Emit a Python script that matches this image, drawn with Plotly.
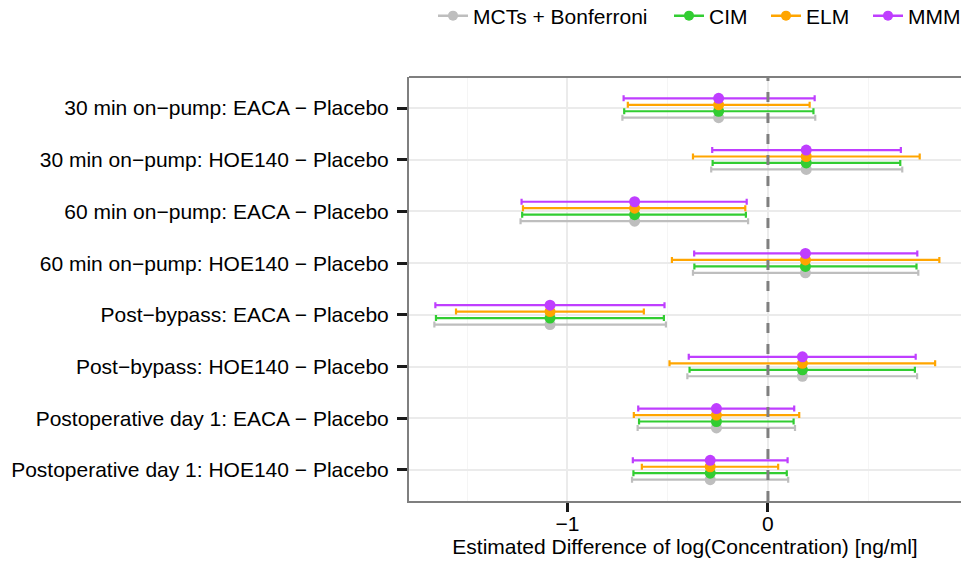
import plotly.graph_objects as go

# ---------------- data ----------------
comparisons = [
    "30 min on\u2212pump: EACA \u2212 Placebo",
    "30 min on\u2212pump: HOE140 \u2212 Placebo",
    "60 min on\u2212pump: EACA \u2212 Placebo",
    "60 min on\u2212pump: HOE140 \u2212 Placebo",
    "Post\u2212bypass: EACA \u2212 Placebo",
    "Post\u2212bypass: HOE140 \u2212 Placebo",
    "Postoperative day 1: EACA \u2212 Placebo",
    "Postoperative day 1: HOE140 \u2212 Placebo",
]

estimate = [-0.246, 0.191, -0.665, 0.187, -1.087, 0.172, -0.257, -0.288]

mct_lower = [-0.726, -0.283, -1.234, -0.374, -1.664, -0.402, -0.650, -0.678]
mct_upper = [0.236, 0.670, -0.099, 0.750, -0.509, 0.744, 0.135, 0.101]

cim_lower = [-0.717, -0.276, -1.226, -0.367, -1.656, -0.391, -0.643, -0.671]
cim_upper = [0.227, 0.660, -0.110, 0.741, -0.519, 0.733, 0.128, 0.094]

elm_lower = [-0.699, -0.374, -1.222, -0.479, -1.556, -0.491, -0.669, -0.629]
elm_upper = [0.208, 0.757, -0.113, 0.855, -0.619, 0.834, 0.156, 0.051]

mmm_lower = [-0.720, -0.278, -1.229, -0.368, -1.659, -0.395, -0.647, -0.674]
mmm_upper = [0.233, 0.663, -0.106, 0.745, -0.516, 0.737, 0.131, 0.098]

methods = ["MCTs + Bonferroni", "CIM", "ELM", "MMM"]
colors = ["#BEBEBE", "#32CD32", "#FFA500", "#BF3EFF"]
lowers = [mct_lower, cim_lower, elm_lower, mmm_lower]
uppers = [mct_upper, cim_upper, elm_upper, mmm_upper]
dodge = [0.1875, 0.0625, -0.0625, -0.1875]

FONT = "Liberation Sans, Arial, Helvetica, sans-serif"
FS = 21
ML, PW = 409, 552  # left margin and plot width in px

fig = go.Figure()

# error bars first (all methods), then points (ggplot layer order)
for m, c, lo, hi, d in zip(methods, colors, lowers, uppers, dodge):
    ys = [i + 1 + d for i in range(len(comparisons))]
    fig.add_trace(go.Scatter(
        x=estimate, y=ys, mode="markers",
        marker=dict(size=1, color="rgba(0,0,0,0)"),
        error_x=dict(type="data", symmetric=False,
                     array=[h - e for h, e in zip(hi, estimate)],
                     arrayminus=[e - l for l, e in zip(lo, estimate)],
                     color=c, thickness=2.2, width=3),
        showlegend=False, hoverinfo="skip"))

for m, c, d in zip(methods, colors, dodge):
    ys = [i + 1 + d for i in range(len(comparisons))]
    fig.add_trace(go.Scatter(
        x=estimate, y=ys, mode="markers",
        marker=dict(size=11, color=c, line=dict(width=0)),
        showlegend=False, name=m))

# legend entries, each in its own legend box to match the spacing
legend_px = [433, 669, 766, 868]
legend_layout = {}
for k, (m, c, px) in enumerate(zip(methods, colors, legend_px)):
    lname = "legend" if k == 0 else f"legend{k + 1}"
    fig.add_trace(go.Scatter(
        x=[None], y=[None], mode="lines+markers", name=m, legend=lname,
        line=dict(color=c, width=2.5), marker=dict(size=10, color=c)))
    legend_layout[lname] = dict(
        orientation="h", x=(px - ML) / PW, xanchor="left",
        y=1 + (77 - 16) / 424, yanchor="middle",
        font=dict(size=FS, color="black", family=FONT),
        bgcolor="rgba(0,0,0,0)", borderwidth=0, itemwidth=30)

# dashed reference line at 0
fig.add_shape(type="line", x0=0, x1=0, xref="x", y0=0, y1=1, yref="paper",
              line=dict(color="#7F7F7F", width=3, dash="10px,11px"),
              layer="above")
# top border
fig.add_shape(type="line", x0=0, x1=1, xref="paper", y0=1, y1=1, yref="paper",
              line=dict(color="#7F7F7F", width=2), layer="above")

fig.update_layout(
    width=961, height=569,
    margin=dict(l=ML, r=0, t=77, b=68, autoexpand=False),
    paper_bgcolor="white", plot_bgcolor="white",
    font=dict(family=FONT, size=FS, color="black"),
    showlegend=True,
    xaxis=dict(
        range=[-1.7905, 0.963], tickvals=[-1, 0], ticktext=["\u22121", "0"],
        showgrid=True, gridcolor="#EBEBEB", gridwidth=1.5,
        zeroline=False, showline=True, linecolor="#7F7F7F", linewidth=2,
        ticks="outside", ticklen=9, tickwidth=2.5, tickcolor="#1a1a1a",
        tickfont=dict(size=FS, color="black"), ticklabelstandoff=-6,
        minor=dict(tickvals=[-1.5, -0.5, 0.5], showgrid=True,
                   gridcolor="#F5F5F5", gridwidth=1, ticks=""),
        title=dict(text="Estimated Difference of log(Concentration) [ng/ml]",
                   font=dict(size=FS, color="black"), standoff=0),
        automargin=False),
    yaxis=dict(
        range=[8.6, 0.4], tickvals=list(range(1, len(comparisons) + 1)),
        ticktext=comparisons,
        showgrid=True, gridcolor="#EBEBEB", gridwidth=1.5,
        zeroline=False, showline=True, linecolor="#7F7F7F", linewidth=2,
        ticks="outside", ticklen=10, tickwidth=2.5, tickcolor="#1a1a1a",
        tickfont=dict(size=FS, color="black"), ticklabelstandoff=4,
        automargin=False),
    **legend_layout,
)

fig.write_html("out.html")
